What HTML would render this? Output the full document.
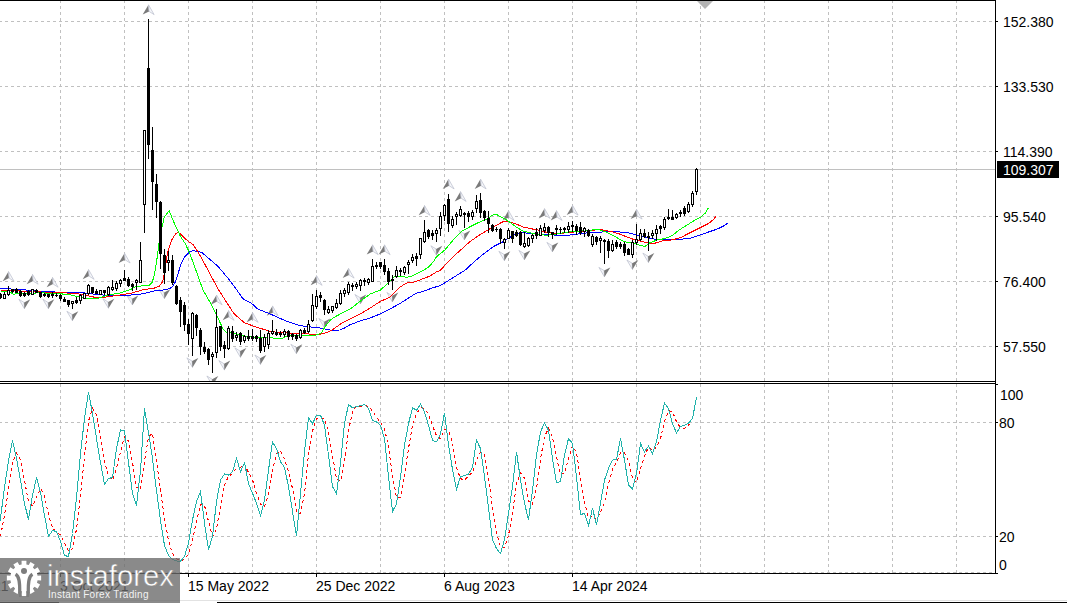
<!DOCTYPE html>
<html><head><meta charset="utf-8"><title>chart</title>
<style>
html,body{margin:0;padding:0;background:#fff;}
body{width:1067px;height:603px;position:relative;overflow:hidden;font-family:"Liberation Sans",sans-serif;}
.l{position:absolute;font-size:14px;line-height:15px;white-space:nowrap;letter-spacing:0px;}
#logo{position:absolute;left:0;top:558px;width:180px;height:45px;background:rgba(107,107,107,0.79);overflow:hidden;}
#lt1{position:absolute;left:47px;top:1px;font-size:30px;line-height:34px;color:#fff;transform-origin:0 0;transform:scaleX(0.975);-webkit-text-stroke:0.5px #8a8a8a;white-space:nowrap;}
#lt2{position:absolute;left:48px;top:30.5px;font-size:10px;line-height:12px;color:#fff;opacity:0.9;white-space:nowrap;letter-spacing:0.3px;}
</style></head><body>
<svg width="1067" height="603" viewBox="0 0 1067 603" style="position:absolute;left:0;top:0">
<g shape-rendering="crispEdges" stroke="#c0c0c0" stroke-width="1" stroke-dasharray="3 3" fill="none">
<line x1="60.5" y1="1" x2="60.5" y2="381" stroke-dashoffset="1"/>
<line x1="60.5" y1="384" x2="60.5" y2="573"/>
<line x1="124.5" y1="1" x2="124.5" y2="381" stroke-dashoffset="1"/>
<line x1="124.5" y1="384" x2="124.5" y2="573"/>
<line x1="188.5" y1="1" x2="188.5" y2="381" stroke-dashoffset="1"/>
<line x1="188.5" y1="384" x2="188.5" y2="573"/>
<line x1="252.5" y1="1" x2="252.5" y2="381" stroke-dashoffset="1"/>
<line x1="252.5" y1="384" x2="252.5" y2="573"/>
<line x1="316.5" y1="1" x2="316.5" y2="381" stroke-dashoffset="1"/>
<line x1="316.5" y1="384" x2="316.5" y2="573"/>
<line x1="380.5" y1="1" x2="380.5" y2="381" stroke-dashoffset="1"/>
<line x1="380.5" y1="384" x2="380.5" y2="573"/>
<line x1="444.5" y1="1" x2="444.5" y2="381" stroke-dashoffset="1"/>
<line x1="444.5" y1="384" x2="444.5" y2="573"/>
<line x1="508.5" y1="1" x2="508.5" y2="381" stroke-dashoffset="1"/>
<line x1="508.5" y1="384" x2="508.5" y2="573"/>
<line x1="572.5" y1="1" x2="572.5" y2="381" stroke-dashoffset="1"/>
<line x1="572.5" y1="384" x2="572.5" y2="573"/>
<line x1="636.5" y1="1" x2="636.5" y2="381" stroke-dashoffset="1"/>
<line x1="636.5" y1="384" x2="636.5" y2="573"/>
<line x1="700.5" y1="1" x2="700.5" y2="381" stroke-dashoffset="1"/>
<line x1="700.5" y1="384" x2="700.5" y2="573"/>
<line x1="764.5" y1="1" x2="764.5" y2="381" stroke-dashoffset="1"/>
<line x1="764.5" y1="384" x2="764.5" y2="573"/>
<line x1="828.5" y1="1" x2="828.5" y2="381" stroke-dashoffset="1"/>
<line x1="828.5" y1="384" x2="828.5" y2="573"/>
<line x1="892.5" y1="1" x2="892.5" y2="381" stroke-dashoffset="1"/>
<line x1="892.5" y1="384" x2="892.5" y2="573"/>
<line x1="956.5" y1="1" x2="956.5" y2="381" stroke-dashoffset="1"/>
<line x1="956.5" y1="384" x2="956.5" y2="573"/>
<line x1="0" y1="21.5" x2="995" y2="21.5" stroke-dashoffset="1"/>
<line x1="0" y1="86.5" x2="995" y2="86.5" stroke-dashoffset="1"/>
<line x1="0" y1="151.5" x2="995" y2="151.5" stroke-dashoffset="1"/>
<line x1="0" y1="216.5" x2="995" y2="216.5" stroke-dashoffset="1"/>
<line x1="0" y1="281.5" x2="995" y2="281.5" stroke-dashoffset="1"/>
<line x1="0" y1="346.5" x2="995" y2="346.5" stroke-dashoffset="1"/>
<line x1="0" y1="422.5" x2="995" y2="422.5" stroke-dashoffset="1"/>
<line x1="0" y1="536.5" x2="995" y2="536.5" stroke-dashoffset="1"/>
<line x1="0" y1="572.5" x2="995" y2="572.5" stroke-dashoffset="1"/>
</g>
<rect x="0" y="169" width="995" height="1" fill="#c0c0c0" shape-rendering="crispEdges"/>
<defs><clipPath id="cm"><rect x="0" y="1" width="995" height="380"/></clipPath><clipPath id="cs"><rect x="0" y="384" width="995" height="189"/></clipPath></defs>
<g clip-path="url(#cm)">
<polygon points="8.5,271.5 2.7,281.3 9.1,278.1" fill="#7a7a7a"/><polygon points="8.5,271.5 14.1,281.3 9.1,278.1" fill="#f6f7fa" stroke="#bfc3d0" stroke-width="0.8"/>
<polygon points="32.5,274.4 26.7,284.2 33.1,281.0" fill="#7a7a7a"/><polygon points="32.5,274.4 38.1,284.2 33.1,281.0" fill="#f6f7fa" stroke="#bfc3d0" stroke-width="0.8"/>
<polygon points="52.5,277.4 46.7,287.2 53.1,284.0" fill="#7a7a7a"/><polygon points="52.5,277.4 58.1,287.2 53.1,284.0" fill="#f6f7fa" stroke="#bfc3d0" stroke-width="0.8"/>
<polygon points="88.5,269.5 82.7,279.3 89.1,276.1" fill="#7a7a7a"/><polygon points="88.5,269.5 94.1,279.3 89.1,276.1" fill="#f6f7fa" stroke="#bfc3d0" stroke-width="0.8"/>
<polygon points="124.5,253.2 118.7,263.0 125.1,259.8" fill="#7a7a7a"/><polygon points="124.5,253.2 130.1,263.0 125.1,259.8" fill="#f6f7fa" stroke="#bfc3d0" stroke-width="0.8"/>
<polygon points="148.5,4.8 142.7,14.6 149.1,11.4" fill="#7a7a7a"/><polygon points="148.5,4.8 154.1,14.6 149.1,11.4" fill="#f6f7fa" stroke="#bfc3d0" stroke-width="0.8"/>
<polygon points="216.5,295.0 210.7,304.8 217.1,301.6" fill="#7a7a7a"/><polygon points="216.5,295.0 222.1,304.8 217.1,301.6" fill="#f6f7fa" stroke="#bfc3d0" stroke-width="0.8"/>
<polygon points="228.5,310.5 222.7,320.3 229.1,317.1" fill="#7a7a7a"/><polygon points="228.5,310.5 234.1,320.3 229.1,317.1" fill="#f6f7fa" stroke="#bfc3d0" stroke-width="0.8"/>
<polygon points="252.5,312.5 246.7,322.3 253.1,319.1" fill="#7a7a7a"/><polygon points="252.5,312.5 258.1,322.3 253.1,319.1" fill="#f6f7fa" stroke="#bfc3d0" stroke-width="0.8"/>
<polygon points="272.5,305.9 266.7,315.7 273.1,312.5" fill="#7a7a7a"/><polygon points="272.5,305.9 278.1,315.7 273.1,312.5" fill="#f6f7fa" stroke="#bfc3d0" stroke-width="0.8"/>
<polygon points="316.5,275.5 310.7,285.3 317.1,282.1" fill="#7a7a7a"/><polygon points="316.5,275.5 322.1,285.3 317.1,282.1" fill="#f6f7fa" stroke="#bfc3d0" stroke-width="0.8"/>
<polygon points="348.5,268.3 342.7,278.1 349.1,274.9" fill="#7a7a7a"/><polygon points="348.5,268.3 354.1,278.1 349.1,274.9" fill="#f6f7fa" stroke="#bfc3d0" stroke-width="0.8"/>
<polygon points="372.5,244.8 366.7,254.6 373.1,251.4" fill="#7a7a7a"/><polygon points="372.5,244.8 378.1,254.6 373.1,251.4" fill="#f6f7fa" stroke="#bfc3d0" stroke-width="0.8"/>
<polygon points="384.5,244.8 378.7,254.6 385.1,251.4" fill="#7a7a7a"/><polygon points="384.5,244.8 390.1,254.6 385.1,251.4" fill="#f6f7fa" stroke="#bfc3d0" stroke-width="0.8"/>
<polygon points="424.5,205.5 418.7,215.3 425.1,212.1" fill="#7a7a7a"/><polygon points="424.5,205.5 430.1,215.3 425.1,212.1" fill="#f6f7fa" stroke="#bfc3d0" stroke-width="0.8"/>
<polygon points="448.5,179.1 442.7,188.9 449.1,185.7" fill="#7a7a7a"/><polygon points="448.5,179.1 454.1,188.9 449.1,185.7" fill="#f6f7fa" stroke="#bfc3d0" stroke-width="0.8"/>
<polygon points="460.5,191.6 454.7,201.4 461.1,198.2" fill="#7a7a7a"/><polygon points="460.5,191.6 466.1,201.4 461.1,198.2" fill="#f6f7fa" stroke="#bfc3d0" stroke-width="0.8"/>
<polygon points="480.5,179.1 474.7,188.9 481.1,185.7" fill="#7a7a7a"/><polygon points="480.5,179.1 486.1,188.9 481.1,185.7" fill="#f6f7fa" stroke="#bfc3d0" stroke-width="0.8"/>
<polygon points="508.5,210.6 502.7,220.4 509.1,217.2" fill="#7a7a7a"/><polygon points="508.5,210.6 514.1,220.4 509.1,217.2" fill="#f6f7fa" stroke="#bfc3d0" stroke-width="0.8"/>
<polygon points="544.5,208.6 538.7,218.4 545.1,215.2" fill="#7a7a7a"/><polygon points="544.5,208.6 550.1,218.4 545.1,215.2" fill="#f6f7fa" stroke="#bfc3d0" stroke-width="0.8"/>
<polygon points="556.5,210.6 550.7,220.4 557.1,217.2" fill="#7a7a7a"/><polygon points="556.5,210.6 562.1,220.4 557.1,217.2" fill="#f6f7fa" stroke="#bfc3d0" stroke-width="0.8"/>
<polygon points="572.5,205.3 566.7,215.1 573.1,211.9" fill="#7a7a7a"/><polygon points="572.5,205.3 578.1,215.1 573.1,211.9" fill="#f6f7fa" stroke="#bfc3d0" stroke-width="0.8"/>
<polygon points="636.5,209.3 630.7,219.1 637.1,215.9" fill="#7a7a7a"/><polygon points="636.5,209.3 642.1,219.1 637.1,215.9" fill="#f6f7fa" stroke="#bfc3d0" stroke-width="0.8"/>
<polygon points="24.5,308.8 18.9,299.3 24.1,302.5" fill="#f6f7fa" stroke="#bfc3d0" stroke-width="0.8"/><polygon points="24.5,308.8 30.3,299.3 24.1,302.5" fill="#7a7a7a"/>
<polygon points="48.5,308.8 42.9,299.3 48.1,302.5" fill="#f6f7fa" stroke="#bfc3d0" stroke-width="0.8"/><polygon points="48.5,308.8 54.3,299.3 48.1,302.5" fill="#7a7a7a"/>
<polygon points="72.5,320.8 66.9,311.3 72.1,314.5" fill="#f6f7fa" stroke="#bfc3d0" stroke-width="0.8"/><polygon points="72.5,320.8 78.3,311.3 72.1,314.5" fill="#7a7a7a"/>
<polygon points="108.5,308.3 102.9,298.8 108.1,302.0" fill="#f6f7fa" stroke="#bfc3d0" stroke-width="0.8"/><polygon points="108.5,308.3 114.3,298.8 108.1,302.0" fill="#7a7a7a"/>
<polygon points="132.5,305.0 126.9,295.5 132.1,298.7" fill="#f6f7fa" stroke="#bfc3d0" stroke-width="0.8"/><polygon points="132.5,305.0 138.3,295.5 132.1,298.7" fill="#7a7a7a"/>
<polygon points="164.5,298.7 158.9,289.2 164.1,292.4" fill="#f6f7fa" stroke="#bfc3d0" stroke-width="0.8"/><polygon points="164.5,298.7 170.3,289.2 164.1,292.4" fill="#7a7a7a"/>
<polygon points="192.5,367.4 186.9,357.9 192.1,361.1" fill="#f6f7fa" stroke="#bfc3d0" stroke-width="0.8"/><polygon points="192.5,367.4 198.3,357.9 192.1,361.1" fill="#7a7a7a"/>
<polygon points="212.5,385.5 206.9,376.0 212.1,379.2" fill="#f6f7fa" stroke="#bfc3d0" stroke-width="0.8"/><polygon points="212.5,385.5 218.3,376.0 212.1,379.2" fill="#7a7a7a"/>
<polygon points="224.5,370.1 218.9,360.6 224.1,363.8" fill="#f6f7fa" stroke="#bfc3d0" stroke-width="0.8"/><polygon points="224.5,370.1 230.3,360.6 224.1,363.8" fill="#7a7a7a"/>
<polygon points="240.5,357.4 234.9,347.9 240.1,351.1" fill="#f6f7fa" stroke="#bfc3d0" stroke-width="0.8"/><polygon points="240.5,357.4 246.3,347.9 240.1,351.1" fill="#7a7a7a"/>
<polygon points="260.5,364.5 254.9,355.0 260.1,358.2" fill="#f6f7fa" stroke="#bfc3d0" stroke-width="0.8"/><polygon points="260.5,364.5 266.3,355.0 260.1,358.2" fill="#7a7a7a"/>
<polygon points="296.5,353.8 290.9,344.3 296.1,347.5" fill="#f6f7fa" stroke="#bfc3d0" stroke-width="0.8"/><polygon points="296.5,353.8 302.3,344.3 296.1,347.5" fill="#7a7a7a"/>
<polygon points="324.5,328.0 318.9,318.5 324.1,321.7" fill="#f6f7fa" stroke="#bfc3d0" stroke-width="0.8"/><polygon points="324.5,328.0 330.3,318.5 324.1,321.7" fill="#7a7a7a"/>
<polygon points="360.5,304.0 354.9,294.5 360.1,297.7" fill="#f6f7fa" stroke="#bfc3d0" stroke-width="0.8"/><polygon points="360.5,304.0 366.3,294.5 360.1,297.7" fill="#7a7a7a"/>
<polygon points="392.5,302.0 386.9,292.5 392.1,295.7" fill="#f6f7fa" stroke="#bfc3d0" stroke-width="0.8"/><polygon points="392.5,302.0 398.3,292.5 392.1,295.7" fill="#7a7a7a"/>
<polygon points="436.5,255.3 430.9,245.8 436.1,249.0" fill="#f6f7fa" stroke="#bfc3d0" stroke-width="0.8"/><polygon points="436.5,255.3 442.3,245.8 436.1,249.0" fill="#7a7a7a"/>
<polygon points="464.5,240.0 458.9,230.5 464.1,233.7" fill="#f6f7fa" stroke="#bfc3d0" stroke-width="0.8"/><polygon points="464.5,240.0 470.3,230.5 464.1,233.7" fill="#7a7a7a"/>
<polygon points="504.5,260.8 498.9,251.3 504.1,254.5" fill="#f6f7fa" stroke="#bfc3d0" stroke-width="0.8"/><polygon points="504.5,260.8 510.3,251.3 504.1,254.5" fill="#7a7a7a"/>
<polygon points="524.5,259.9 518.9,250.4 524.1,253.6" fill="#f6f7fa" stroke="#bfc3d0" stroke-width="0.8"/><polygon points="524.5,259.9 530.3,250.4 524.1,253.6" fill="#7a7a7a"/>
<polygon points="552.5,251.9 546.9,242.4 552.1,245.6" fill="#f6f7fa" stroke="#bfc3d0" stroke-width="0.8"/><polygon points="552.5,251.9 558.3,242.4 552.1,245.6" fill="#7a7a7a"/>
<polygon points="604.5,276.9 598.9,267.4 604.1,270.6" fill="#f6f7fa" stroke="#bfc3d0" stroke-width="0.8"/><polygon points="604.5,276.9 610.3,267.4 604.1,270.6" fill="#7a7a7a"/>
<polygon points="632.5,269.5 626.9,260.0 632.1,263.2" fill="#f6f7fa" stroke="#bfc3d0" stroke-width="0.8"/><polygon points="632.5,269.5 638.3,260.0 632.1,263.2" fill="#7a7a7a"/>
<polygon points="648.5,262.6 642.9,253.1 648.1,256.3" fill="#f6f7fa" stroke="#bfc3d0" stroke-width="0.8"/><polygon points="648.5,262.6 654.3,253.1 648.1,256.3" fill="#7a7a7a"/>
</g>
<g shape-rendering="crispEdges">
<polyline points="0.5,288.5 20.5,289.5 40.5,291.5 60.5,292.2 80.5,292.5 96.5,294.4 110.5,295.8 131.5,295.0 143.0,293.8 154.5,290.9 166.2,289.7 172.0,287.4 175.5,281.6 177.8,274.6 181.3,263.0 184.8,256.6 189.4,252.0 193.1,250.7 197.5,251.3 201.8,252.5 209.5,259.0 218.6,267.0 230.6,281.4 236.5,289.5 242.6,298.2 244.5,299.7 251.1,303.0 257.8,309.0 271.0,314.3 284.3,320.3 297.5,324.9 304.2,326.3 317.5,327.6 330.7,330.2 340.0,330.0 344.5,328.0 350.5,324.5 360.4,320.9 370.3,317.9 380.3,313.9 390.2,308.9 400.1,303.4 410.1,297.0 416.0,293.4 424.0,291.0 432.0,288.1 440.5,285.5 452.5,278.0 464.7,270.5 469.7,265.9 478.0,258.4 486.3,251.8 494.5,246.0 502.8,241.8 509.5,237.7 516.1,233.5 522.7,232.7 532.5,233.5 545.8,234.7 559.0,235.2 565.7,235.6 578.9,233.9 592.2,232.3 605.5,231.9 618.7,231.9 625.3,232.3 632.5,233.7 635.6,235.0 644.7,237.1 653.9,239.0 663.0,239.9 672.1,239.9 681.2,239.3 690.4,238.1 699.5,235.3 708.6,232.0 717.7,228.9 723.2,226.2 728.1,222.9" fill="none" stroke="#0000ff" stroke-width="1" />
<polyline points="0.5,290.0 20.5,291.0 40.5,292.0 60.5,292.5 70.5,293.3 80.5,294.1 90.5,296.3 97.0,297.8 100.5,297.9 108.1,296.7 119.7,295.0 131.3,293.2 143.0,289.7 154.5,288.0 159.2,286.2 162.7,281.6 165.0,270.0 167.3,253.7 170.8,242.1 172.8,238.0 175.5,234.0 177.8,232.5 180.1,233.5 184.8,238.5 189.4,242.1 192.9,244.5 196.5,249.7 201.8,258.5 211.4,276.5 217.7,288.3 226.8,302.8 234.1,313.8 241.4,320.1 244.5,322.9 257.8,327.6 271.0,331.6 284.3,332.9 297.5,333.5 308.2,333.9 316.1,334.9 324.1,333.3 330.7,330.9 337.3,326.3 340.5,323.9 350.5,318.9 360.4,313.9 370.3,307.9 380.3,301.4 390.2,297.0 400.1,287.1 406.1,283.1 414.1,282.1 422.0,279.1 430.0,276.1 435.9,272.2 440.5,270.2 446.5,263.4 453.1,256.7 461.4,249.3 469.7,241.8 478.0,236.0 486.3,231.0 494.5,226.1 502.8,221.9 509.5,221.9 516.1,223.9 522.7,226.9 529.4,228.2 532.5,229.0 539.1,230.3 545.8,232.1 552.4,233.0 559.0,233.7 569.6,232.3 578.9,231.7 588.2,230.3 601.5,229.7 612.1,231.7 618.7,233.7 625.3,236.3 632.5,239.0 635.6,239.9 644.7,242.3 653.9,243.5 663.0,240.8 672.1,239.9 681.2,237.5 686.7,234.4 694.0,230.8 701.3,227.1 708.6,223.5 714.1,218.9 716.3,215.6" fill="none" stroke="#ff0000" stroke-width="1" />
<polyline points="0.5,290.9 10.5,292.4 13.5,294.1 40.5,292.8 60.5,293.8 70.5,294.8 80.5,297.3 87.5,298.8 97.0,298.8 100.5,297.5 108.1,295.0 119.7,293.2 131.3,289.2 136.5,286.2 148.8,285.7 152.2,282.2 154.5,274.6 156.9,259.5 159.2,241.0 160.4,234.8 164.1,217.5 169.1,210.7 174.0,222.5 180.3,236.1 185.2,243.5 189.4,252.5 196.5,271.7 197.7,275.5 203.1,290.1 210.4,302.8 217.7,317.4 223.2,329.3 226.8,332.9 232.3,332.9 244.5,336.2 257.8,337.3 271.0,337.3 275.0,338.9 281.6,338.6 286.9,336.2 297.5,335.1 310.8,335.5 317.5,334.9 321.4,332.9 325.4,326.3 330.7,319.6 337.3,315.6 340.5,313.9 350.5,308.9 360.4,301.0 370.3,294.0 380.3,290.1 388.2,283.1 394.2,276.7 402.1,276.1 406.1,277.5 412.1,276.1 420.0,272.2 428.0,267.6 433.9,261.2 436.5,256.7 444.8,250.1 453.1,240.2 461.4,231.5 469.7,226.9 478.0,222.7 486.3,219.4 492.9,214.9 497.0,214.8 502.8,217.8 509.5,221.9 516.1,226.9 522.7,231.0 529.4,232.7 536.5,233.9 545.8,235.2 559.0,233.7 565.7,232.3 572.3,231.7 585.5,230.3 598.8,229.7 606.8,232.3 614.7,236.3 622.7,241.0 628.0,242.7 632.0,243.0 637.5,244.5 644.7,246.6 650.2,242.6 657.5,239.9 664.8,238.6 672.1,235.7 679.4,229.8 686.7,225.3 694.0,220.7 701.3,216.7 705.9,212.5 708.3,207.9" fill="none" stroke="#00ff00" stroke-width="1" />
</g>
<g shape-rendering="crispEdges">
<rect x="0" y="293" width="1" height="6" fill="#000"/>
<rect x="-1" y="294" width="3" height="4" fill="#000"/>
<rect x="4" y="292" width="1" height="7" fill="#000"/>
<rect x="3" y="294" width="3" height="5" fill="#000"/>
<rect x="4" y="295" width="1" height="3" fill="#fff"/>
<rect x="8" y="286" width="1" height="10" fill="#000"/>
<rect x="7" y="290" width="3" height="5" fill="#000"/>
<rect x="8" y="291" width="1" height="3" fill="#fff"/>
<rect x="12" y="289" width="1" height="4" fill="#000"/>
<rect x="11" y="289" width="3" height="3" fill="#000"/>
<rect x="16" y="288" width="1" height="5" fill="#000"/>
<rect x="15" y="289" width="3" height="4" fill="#000"/>
<rect x="20" y="290" width="1" height="7" fill="#000"/>
<rect x="19" y="291" width="3" height="5" fill="#000"/>
<rect x="24" y="292" width="1" height="5" fill="#000"/>
<rect x="23" y="293" width="3" height="3" fill="#000"/>
<rect x="28" y="290" width="1" height="6" fill="#000"/>
<rect x="27" y="291" width="3" height="4" fill="#000"/>
<rect x="32" y="289" width="1" height="6" fill="#000"/>
<rect x="31" y="289" width="3" height="6" fill="#000"/>
<rect x="32" y="290" width="1" height="4" fill="#fff"/>
<rect x="36" y="289" width="1" height="4" fill="#000"/>
<rect x="35" y="290" width="3" height="3" fill="#000"/>
<rect x="40" y="292" width="1" height="6" fill="#000"/>
<rect x="39" y="292" width="3" height="5" fill="#000"/>
<rect x="44" y="293" width="1" height="4" fill="#000"/>
<rect x="43" y="294" width="3" height="2" fill="#000"/>
<rect x="48" y="294" width="1" height="4" fill="#000"/>
<rect x="47" y="294" width="3" height="3" fill="#000"/>
<rect x="52" y="292" width="1" height="6" fill="#000"/>
<rect x="51" y="294" width="3" height="2" fill="#000"/>
<rect x="56" y="293" width="1" height="4" fill="#000"/>
<rect x="55" y="295" width="3" height="1" fill="#000"/>
<rect x="60" y="294" width="1" height="7" fill="#000"/>
<rect x="59" y="295" width="3" height="4" fill="#000"/>
<rect x="64" y="297" width="1" height="5" fill="#000"/>
<rect x="63" y="299" width="3" height="3" fill="#000"/>
<rect x="68" y="300" width="1" height="7" fill="#000"/>
<rect x="67" y="300" width="3" height="5" fill="#000"/>
<rect x="72" y="301" width="1" height="8" fill="#000"/>
<rect x="71" y="301" width="3" height="3" fill="#000"/>
<rect x="72" y="302" width="1" height="1" fill="#fff"/>
<rect x="76" y="297" width="1" height="7" fill="#000"/>
<rect x="75" y="300" width="3" height="3" fill="#000"/>
<rect x="80" y="294" width="1" height="10" fill="#000"/>
<rect x="79" y="295" width="3" height="6" fill="#000"/>
<rect x="80" y="296" width="1" height="4" fill="#fff"/>
<rect x="84" y="293" width="1" height="6" fill="#000"/>
<rect x="83" y="293" width="3" height="6" fill="#000"/>
<rect x="84" y="294" width="1" height="4" fill="#fff"/>
<rect x="88" y="284" width="1" height="11" fill="#000"/>
<rect x="87" y="285" width="3" height="9" fill="#000"/>
<rect x="88" y="286" width="1" height="7" fill="#fff"/>
<rect x="92" y="287" width="1" height="7" fill="#000"/>
<rect x="91" y="287" width="3" height="6" fill="#000"/>
<rect x="96" y="289" width="1" height="5" fill="#000"/>
<rect x="95" y="291" width="3" height="3" fill="#000"/>
<rect x="100" y="290" width="1" height="5" fill="#000"/>
<rect x="99" y="290" width="3" height="5" fill="#000"/>
<rect x="100" y="291" width="1" height="3" fill="#fff"/>
<rect x="104" y="290" width="1" height="5" fill="#000"/>
<rect x="103" y="290" width="3" height="3" fill="#000"/>
<rect x="108" y="286" width="1" height="10" fill="#000"/>
<rect x="107" y="287" width="3" height="8" fill="#000"/>
<rect x="108" y="288" width="1" height="6" fill="#fff"/>
<rect x="112" y="280" width="1" height="11" fill="#000"/>
<rect x="111" y="287" width="3" height="3" fill="#000"/>
<rect x="112" y="288" width="1" height="1" fill="#fff"/>
<rect x="116" y="281" width="1" height="10" fill="#000"/>
<rect x="115" y="283" width="3" height="6" fill="#000"/>
<rect x="116" y="284" width="1" height="4" fill="#fff"/>
<rect x="120" y="279" width="1" height="8" fill="#000"/>
<rect x="119" y="280" width="3" height="4" fill="#000"/>
<rect x="120" y="281" width="1" height="2" fill="#fff"/>
<rect x="124" y="270" width="1" height="11" fill="#000"/>
<rect x="123" y="278" width="3" height="3" fill="#000"/>
<rect x="128" y="277" width="1" height="10" fill="#000"/>
<rect x="127" y="279" width="3" height="7" fill="#000"/>
<rect x="132" y="283" width="1" height="8" fill="#000"/>
<rect x="131" y="284" width="3" height="3" fill="#000"/>
<rect x="136" y="279" width="1" height="11" fill="#000"/>
<rect x="135" y="280" width="3" height="3" fill="#000"/>
<rect x="136" y="281" width="1" height="1" fill="#fff"/>
<rect x="140" y="242" width="1" height="41" fill="#000"/>
<rect x="139" y="260" width="3" height="23" fill="#000"/>
<rect x="140" y="261" width="1" height="21" fill="#fff"/>
<rect x="144" y="130" width="1" height="103" fill="#000"/>
<rect x="143" y="130" width="3" height="75" fill="#000"/>
<rect x="144" y="131" width="1" height="73" fill="#fff"/>
<rect x="148" y="19" width="1" height="140" fill="#000"/>
<rect x="147" y="68" width="3" height="77" fill="#000"/>
<rect x="152" y="127" width="1" height="83" fill="#000"/>
<rect x="151" y="150" width="3" height="32" fill="#000"/>
<rect x="156" y="174" width="1" height="44" fill="#000"/>
<rect x="155" y="184" width="3" height="18" fill="#000"/>
<rect x="160" y="201" width="1" height="68" fill="#000"/>
<rect x="159" y="202" width="3" height="52" fill="#000"/>
<rect x="164" y="249" width="1" height="35" fill="#000"/>
<rect x="163" y="255" width="3" height="18" fill="#000"/>
<rect x="168" y="251" width="1" height="20" fill="#000"/>
<rect x="167" y="260" width="3" height="3" fill="#000"/>
<rect x="168" y="261" width="1" height="1" fill="#fff"/>
<rect x="172" y="255" width="1" height="30" fill="#000"/>
<rect x="171" y="260" width="3" height="23" fill="#000"/>
<rect x="176" y="285" width="1" height="20" fill="#000"/>
<rect x="175" y="286" width="3" height="18" fill="#000"/>
<rect x="180" y="297" width="1" height="30" fill="#000"/>
<rect x="179" y="300" width="3" height="12" fill="#000"/>
<rect x="184" y="302" width="1" height="29" fill="#000"/>
<rect x="183" y="305" width="3" height="20" fill="#000"/>
<rect x="188" y="319" width="1" height="26" fill="#000"/>
<rect x="187" y="324" width="3" height="10" fill="#000"/>
<rect x="192" y="312" width="1" height="44" fill="#000"/>
<rect x="191" y="313" width="3" height="26" fill="#000"/>
<rect x="192" y="314" width="1" height="24" fill="#fff"/>
<rect x="196" y="314" width="1" height="22" fill="#000"/>
<rect x="195" y="315" width="3" height="13" fill="#000"/>
<rect x="200" y="328" width="1" height="27" fill="#000"/>
<rect x="199" y="330" width="3" height="17" fill="#000"/>
<rect x="204" y="342" width="1" height="12" fill="#000"/>
<rect x="203" y="347" width="3" height="5" fill="#000"/>
<rect x="208" y="348" width="1" height="17" fill="#000"/>
<rect x="207" y="349" width="3" height="11" fill="#000"/>
<rect x="212" y="352" width="1" height="21" fill="#000"/>
<rect x="211" y="354" width="3" height="3" fill="#000"/>
<rect x="212" y="355" width="1" height="1" fill="#fff"/>
<rect x="216" y="309" width="1" height="49" fill="#000"/>
<rect x="215" y="327" width="3" height="26" fill="#000"/>
<rect x="216" y="328" width="1" height="24" fill="#fff"/>
<rect x="220" y="326" width="1" height="25" fill="#000"/>
<rect x="219" y="326" width="3" height="21" fill="#000"/>
<rect x="224" y="341" width="1" height="17" fill="#000"/>
<rect x="223" y="345" width="3" height="4" fill="#000"/>
<rect x="228" y="326" width="1" height="24" fill="#000"/>
<rect x="227" y="328" width="3" height="21" fill="#000"/>
<rect x="228" y="329" width="1" height="19" fill="#fff"/>
<rect x="232" y="326" width="1" height="16" fill="#000"/>
<rect x="231" y="331" width="3" height="8" fill="#000"/>
<rect x="236" y="332" width="1" height="9" fill="#000"/>
<rect x="235" y="335" width="3" height="3" fill="#000"/>
<rect x="236" y="336" width="1" height="1" fill="#fff"/>
<rect x="240" y="332" width="1" height="13" fill="#000"/>
<rect x="239" y="333" width="3" height="9" fill="#000"/>
<rect x="244" y="335" width="1" height="8" fill="#000"/>
<rect x="243" y="336" width="3" height="5" fill="#000"/>
<rect x="244" y="337" width="1" height="3" fill="#fff"/>
<rect x="248" y="330" width="1" height="11" fill="#000"/>
<rect x="247" y="336" width="3" height="3" fill="#000"/>
<rect x="252" y="329" width="1" height="12" fill="#000"/>
<rect x="251" y="336" width="3" height="3" fill="#000"/>
<rect x="256" y="335" width="1" height="7" fill="#000"/>
<rect x="255" y="336" width="3" height="3" fill="#000"/>
<rect x="260" y="330" width="1" height="23" fill="#000"/>
<rect x="259" y="338" width="3" height="13" fill="#000"/>
<rect x="264" y="334" width="1" height="18" fill="#000"/>
<rect x="263" y="337" width="3" height="10" fill="#000"/>
<rect x="264" y="338" width="1" height="8" fill="#fff"/>
<rect x="268" y="330" width="1" height="19" fill="#000"/>
<rect x="267" y="333" width="3" height="12" fill="#000"/>
<rect x="268" y="334" width="1" height="10" fill="#fff"/>
<rect x="272" y="320" width="1" height="15" fill="#000"/>
<rect x="271" y="331" width="3" height="3" fill="#000"/>
<rect x="272" y="332" width="1" height="1" fill="#fff"/>
<rect x="276" y="329" width="1" height="7" fill="#000"/>
<rect x="275" y="332" width="3" height="3" fill="#000"/>
<rect x="280" y="331" width="1" height="6" fill="#000"/>
<rect x="279" y="333" width="3" height="2" fill="#000"/>
<rect x="284" y="329" width="1" height="8" fill="#000"/>
<rect x="283" y="331" width="3" height="4" fill="#000"/>
<rect x="284" y="332" width="1" height="2" fill="#fff"/>
<rect x="288" y="330" width="1" height="10" fill="#000"/>
<rect x="287" y="331" width="3" height="6" fill="#000"/>
<rect x="292" y="333" width="1" height="7" fill="#000"/>
<rect x="291" y="334" width="3" height="3" fill="#000"/>
<rect x="296" y="334" width="1" height="7" fill="#000"/>
<rect x="295" y="335" width="3" height="4" fill="#000"/>
<rect x="300" y="329" width="1" height="10" fill="#000"/>
<rect x="299" y="330" width="3" height="8" fill="#000"/>
<rect x="300" y="331" width="1" height="6" fill="#fff"/>
<rect x="304" y="328" width="1" height="6" fill="#000"/>
<rect x="303" y="330" width="3" height="3" fill="#000"/>
<rect x="308" y="320" width="1" height="13" fill="#000"/>
<rect x="307" y="324" width="3" height="8" fill="#000"/>
<rect x="308" y="325" width="1" height="6" fill="#fff"/>
<rect x="312" y="294" width="1" height="28" fill="#000"/>
<rect x="311" y="305" width="3" height="16" fill="#000"/>
<rect x="312" y="306" width="1" height="14" fill="#fff"/>
<rect x="316" y="290" width="1" height="19" fill="#000"/>
<rect x="315" y="296" width="3" height="11" fill="#000"/>
<rect x="316" y="297" width="1" height="9" fill="#fff"/>
<rect x="320" y="292" width="1" height="10" fill="#000"/>
<rect x="319" y="295" width="3" height="3" fill="#000"/>
<rect x="324" y="299" width="1" height="16" fill="#000"/>
<rect x="323" y="300" width="3" height="10" fill="#000"/>
<rect x="328" y="306" width="1" height="8" fill="#000"/>
<rect x="327" y="309" width="3" height="4" fill="#000"/>
<rect x="328" y="310" width="1" height="2" fill="#fff"/>
<rect x="332" y="306" width="1" height="7" fill="#000"/>
<rect x="331" y="306" width="3" height="5" fill="#000"/>
<rect x="332" y="307" width="1" height="3" fill="#fff"/>
<rect x="336" y="299" width="1" height="10" fill="#000"/>
<rect x="335" y="303" width="3" height="5" fill="#000"/>
<rect x="336" y="304" width="1" height="3" fill="#fff"/>
<rect x="340" y="290" width="1" height="15" fill="#000"/>
<rect x="339" y="293" width="3" height="11" fill="#000"/>
<rect x="340" y="294" width="1" height="9" fill="#fff"/>
<rect x="344" y="288" width="1" height="9" fill="#000"/>
<rect x="343" y="290" width="3" height="4" fill="#000"/>
<rect x="344" y="291" width="1" height="2" fill="#fff"/>
<rect x="348" y="282" width="1" height="13" fill="#000"/>
<rect x="347" y="284" width="3" height="9" fill="#000"/>
<rect x="348" y="285" width="1" height="7" fill="#fff"/>
<rect x="352" y="283" width="1" height="8" fill="#000"/>
<rect x="351" y="285" width="3" height="2" fill="#000"/>
<rect x="356" y="282" width="1" height="7" fill="#000"/>
<rect x="355" y="284" width="3" height="3" fill="#000"/>
<rect x="356" y="285" width="1" height="1" fill="#fff"/>
<rect x="360" y="279" width="1" height="12" fill="#000"/>
<rect x="359" y="280" width="3" height="6" fill="#000"/>
<rect x="360" y="281" width="1" height="4" fill="#fff"/>
<rect x="364" y="278" width="1" height="8" fill="#000"/>
<rect x="363" y="280" width="3" height="2" fill="#000"/>
<rect x="368" y="278" width="1" height="7" fill="#000"/>
<rect x="367" y="279" width="3" height="4" fill="#000"/>
<rect x="368" y="280" width="1" height="2" fill="#fff"/>
<rect x="372" y="259" width="1" height="23" fill="#000"/>
<rect x="371" y="266" width="3" height="16" fill="#000"/>
<rect x="372" y="267" width="1" height="14" fill="#fff"/>
<rect x="376" y="262" width="1" height="7" fill="#000"/>
<rect x="375" y="265" width="3" height="2" fill="#000"/>
<rect x="380" y="262" width="1" height="7" fill="#000"/>
<rect x="379" y="262" width="3" height="5" fill="#000"/>
<rect x="384" y="259" width="1" height="16" fill="#000"/>
<rect x="383" y="265" width="3" height="7" fill="#000"/>
<rect x="388" y="268" width="1" height="17" fill="#000"/>
<rect x="387" y="271" width="3" height="11" fill="#000"/>
<rect x="392" y="275" width="1" height="15" fill="#000"/>
<rect x="391" y="279" width="3" height="2" fill="#000"/>
<rect x="396" y="266" width="1" height="12" fill="#000"/>
<rect x="395" y="270" width="3" height="7" fill="#000"/>
<rect x="396" y="271" width="1" height="5" fill="#fff"/>
<rect x="400" y="268" width="1" height="8" fill="#000"/>
<rect x="399" y="270" width="3" height="2" fill="#000"/>
<rect x="404" y="266" width="1" height="9" fill="#000"/>
<rect x="403" y="267" width="3" height="6" fill="#000"/>
<rect x="404" y="268" width="1" height="4" fill="#fff"/>
<rect x="408" y="260" width="1" height="14" fill="#000"/>
<rect x="407" y="262" width="3" height="3" fill="#000"/>
<rect x="408" y="263" width="1" height="1" fill="#fff"/>
<rect x="412" y="254" width="1" height="9" fill="#000"/>
<rect x="411" y="257" width="3" height="4" fill="#000"/>
<rect x="412" y="258" width="1" height="2" fill="#fff"/>
<rect x="416" y="253" width="1" height="13" fill="#000"/>
<rect x="415" y="256" width="3" height="3" fill="#000"/>
<rect x="420" y="238" width="1" height="21" fill="#000"/>
<rect x="419" y="238" width="3" height="17" fill="#000"/>
<rect x="420" y="239" width="1" height="15" fill="#fff"/>
<rect x="424" y="220" width="1" height="23" fill="#000"/>
<rect x="423" y="232" width="3" height="10" fill="#000"/>
<rect x="424" y="233" width="1" height="8" fill="#fff"/>
<rect x="428" y="229" width="1" height="10" fill="#000"/>
<rect x="427" y="230" width="3" height="7" fill="#000"/>
<rect x="432" y="230" width="1" height="10" fill="#000"/>
<rect x="431" y="233" width="3" height="3" fill="#000"/>
<rect x="436" y="228" width="1" height="14" fill="#000"/>
<rect x="435" y="230" width="3" height="4" fill="#000"/>
<rect x="436" y="231" width="1" height="2" fill="#fff"/>
<rect x="440" y="212" width="1" height="24" fill="#000"/>
<rect x="439" y="216" width="3" height="13" fill="#000"/>
<rect x="440" y="217" width="1" height="11" fill="#fff"/>
<rect x="444" y="204" width="1" height="17" fill="#000"/>
<rect x="443" y="205" width="3" height="11" fill="#000"/>
<rect x="444" y="206" width="1" height="9" fill="#fff"/>
<rect x="448" y="194" width="1" height="38" fill="#000"/>
<rect x="447" y="199" width="3" height="25" fill="#000"/>
<rect x="452" y="216" width="1" height="12" fill="#000"/>
<rect x="451" y="219" width="3" height="7" fill="#000"/>
<rect x="452" y="220" width="1" height="5" fill="#fff"/>
<rect x="456" y="212" width="1" height="13" fill="#000"/>
<rect x="455" y="214" width="3" height="3" fill="#000"/>
<rect x="456" y="215" width="1" height="1" fill="#fff"/>
<rect x="460" y="206" width="1" height="11" fill="#000"/>
<rect x="459" y="209" width="3" height="7" fill="#000"/>
<rect x="460" y="210" width="1" height="5" fill="#fff"/>
<rect x="464" y="212" width="1" height="16" fill="#000"/>
<rect x="463" y="213" width="3" height="2" fill="#000"/>
<rect x="468" y="211" width="1" height="11" fill="#000"/>
<rect x="467" y="213" width="3" height="4" fill="#000"/>
<rect x="472" y="210" width="1" height="10" fill="#000"/>
<rect x="471" y="212" width="3" height="5" fill="#000"/>
<rect x="472" y="213" width="1" height="3" fill="#fff"/>
<rect x="476" y="195" width="1" height="18" fill="#000"/>
<rect x="475" y="201" width="3" height="8" fill="#000"/>
<rect x="476" y="202" width="1" height="6" fill="#fff"/>
<rect x="480" y="193" width="1" height="25" fill="#000"/>
<rect x="479" y="200" width="3" height="13" fill="#000"/>
<rect x="484" y="210" width="1" height="11" fill="#000"/>
<rect x="483" y="211" width="3" height="7" fill="#000"/>
<rect x="488" y="211" width="1" height="22" fill="#000"/>
<rect x="487" y="218" width="3" height="6" fill="#000"/>
<rect x="492" y="224" width="1" height="8" fill="#000"/>
<rect x="491" y="225" width="3" height="6" fill="#000"/>
<rect x="496" y="227" width="1" height="5" fill="#000"/>
<rect x="495" y="229" width="3" height="1" fill="#000"/>
<rect x="500" y="228" width="1" height="16" fill="#000"/>
<rect x="499" y="229" width="3" height="10" fill="#000"/>
<rect x="504" y="238" width="1" height="11" fill="#000"/>
<rect x="503" y="239" width="3" height="4" fill="#000"/>
<rect x="504" y="240" width="1" height="2" fill="#fff"/>
<rect x="508" y="228" width="1" height="11" fill="#000"/>
<rect x="507" y="230" width="3" height="9" fill="#000"/>
<rect x="508" y="231" width="1" height="7" fill="#fff"/>
<rect x="512" y="231" width="1" height="12" fill="#000"/>
<rect x="511" y="231" width="3" height="8" fill="#000"/>
<rect x="516" y="230" width="1" height="7" fill="#000"/>
<rect x="515" y="232" width="3" height="4" fill="#000"/>
<rect x="520" y="231" width="1" height="15" fill="#000"/>
<rect x="519" y="232" width="3" height="13" fill="#000"/>
<rect x="524" y="232" width="1" height="16" fill="#000"/>
<rect x="523" y="243" width="3" height="4" fill="#000"/>
<rect x="524" y="244" width="1" height="2" fill="#fff"/>
<rect x="528" y="237" width="1" height="10" fill="#000"/>
<rect x="527" y="238" width="3" height="8" fill="#000"/>
<rect x="528" y="239" width="1" height="6" fill="#fff"/>
<rect x="532" y="234" width="1" height="9" fill="#000"/>
<rect x="531" y="235" width="3" height="4" fill="#000"/>
<rect x="532" y="236" width="1" height="2" fill="#fff"/>
<rect x="536" y="228" width="1" height="11" fill="#000"/>
<rect x="535" y="232" width="3" height="4" fill="#000"/>
<rect x="540" y="225" width="1" height="11" fill="#000"/>
<rect x="539" y="228" width="3" height="8" fill="#000"/>
<rect x="540" y="229" width="1" height="6" fill="#fff"/>
<rect x="544" y="223" width="1" height="10" fill="#000"/>
<rect x="543" y="227" width="3" height="4" fill="#000"/>
<rect x="544" y="228" width="1" height="2" fill="#fff"/>
<rect x="548" y="226" width="1" height="11" fill="#000"/>
<rect x="547" y="227" width="3" height="6" fill="#000"/>
<rect x="552" y="232" width="1" height="7" fill="#000"/>
<rect x="551" y="232" width="3" height="3" fill="#000"/>
<rect x="556" y="225" width="1" height="10" fill="#000"/>
<rect x="555" y="228" width="3" height="2" fill="#000"/>
<rect x="560" y="227" width="1" height="7" fill="#000"/>
<rect x="559" y="229" width="3" height="1" fill="#000"/>
<rect x="564" y="227" width="1" height="6" fill="#000"/>
<rect x="563" y="228" width="3" height="2" fill="#000"/>
<rect x="568" y="222" width="1" height="11" fill="#000"/>
<rect x="567" y="226" width="3" height="4" fill="#000"/>
<rect x="568" y="227" width="1" height="2" fill="#fff"/>
<rect x="572" y="221" width="1" height="11" fill="#000"/>
<rect x="571" y="225" width="3" height="2" fill="#000"/>
<rect x="576" y="224" width="1" height="11" fill="#000"/>
<rect x="575" y="226" width="3" height="5" fill="#000"/>
<rect x="580" y="222" width="1" height="13" fill="#000"/>
<rect x="579" y="227" width="3" height="6" fill="#000"/>
<rect x="584" y="227" width="1" height="10" fill="#000"/>
<rect x="583" y="228" width="3" height="4" fill="#000"/>
<rect x="584" y="229" width="1" height="2" fill="#fff"/>
<rect x="588" y="229" width="1" height="8" fill="#000"/>
<rect x="587" y="230" width="3" height="6" fill="#000"/>
<rect x="592" y="234" width="1" height="13" fill="#000"/>
<rect x="591" y="236" width="3" height="9" fill="#000"/>
<rect x="592" y="237" width="1" height="7" fill="#fff"/>
<rect x="596" y="236" width="1" height="9" fill="#000"/>
<rect x="595" y="237" width="3" height="5" fill="#000"/>
<rect x="600" y="236" width="1" height="17" fill="#000"/>
<rect x="599" y="238" width="3" height="3" fill="#000"/>
<rect x="600" y="239" width="1" height="1" fill="#fff"/>
<rect x="604" y="239" width="1" height="25" fill="#000"/>
<rect x="603" y="240" width="3" height="2" fill="#000"/>
<rect x="608" y="239" width="1" height="19" fill="#000"/>
<rect x="607" y="241" width="3" height="10" fill="#000"/>
<rect x="612" y="240" width="1" height="12" fill="#000"/>
<rect x="611" y="244" width="3" height="7" fill="#000"/>
<rect x="612" y="245" width="1" height="5" fill="#fff"/>
<rect x="616" y="240" width="1" height="9" fill="#000"/>
<rect x="615" y="242" width="3" height="5" fill="#000"/>
<rect x="620" y="242" width="1" height="7" fill="#000"/>
<rect x="619" y="244" width="3" height="3" fill="#000"/>
<rect x="624" y="242" width="1" height="14" fill="#000"/>
<rect x="623" y="244" width="3" height="9" fill="#000"/>
<rect x="628" y="248" width="1" height="7" fill="#000"/>
<rect x="627" y="249" width="3" height="6" fill="#000"/>
<rect x="632" y="240" width="1" height="18" fill="#000"/>
<rect x="631" y="242" width="3" height="13" fill="#000"/>
<rect x="632" y="243" width="1" height="11" fill="#fff"/>
<rect x="636" y="224" width="1" height="21" fill="#000"/>
<rect x="635" y="239" width="3" height="4" fill="#000"/>
<rect x="636" y="240" width="1" height="2" fill="#fff"/>
<rect x="640" y="229" width="1" height="12" fill="#000"/>
<rect x="639" y="233" width="3" height="7" fill="#000"/>
<rect x="640" y="234" width="1" height="5" fill="#fff"/>
<rect x="644" y="229" width="1" height="9" fill="#000"/>
<rect x="643" y="233" width="3" height="4" fill="#000"/>
<rect x="648" y="232" width="1" height="19" fill="#000"/>
<rect x="647" y="236" width="3" height="2" fill="#000"/>
<rect x="652" y="230" width="1" height="9" fill="#000"/>
<rect x="651" y="233" width="3" height="3" fill="#000"/>
<rect x="652" y="234" width="1" height="1" fill="#fff"/>
<rect x="656" y="225" width="1" height="16" fill="#000"/>
<rect x="655" y="229" width="3" height="5" fill="#000"/>
<rect x="656" y="230" width="1" height="3" fill="#fff"/>
<rect x="660" y="225" width="1" height="9" fill="#000"/>
<rect x="659" y="226" width="3" height="3" fill="#000"/>
<rect x="664" y="217" width="1" height="13" fill="#000"/>
<rect x="663" y="219" width="3" height="9" fill="#000"/>
<rect x="664" y="220" width="1" height="7" fill="#fff"/>
<rect x="668" y="209" width="1" height="11" fill="#000"/>
<rect x="667" y="217" width="3" height="2" fill="#000"/>
<rect x="672" y="210" width="1" height="10" fill="#000"/>
<rect x="671" y="217" width="3" height="3" fill="#000"/>
<rect x="676" y="213" width="1" height="6" fill="#000"/>
<rect x="675" y="214" width="3" height="4" fill="#000"/>
<rect x="676" y="215" width="1" height="2" fill="#fff"/>
<rect x="680" y="210" width="1" height="7" fill="#000"/>
<rect x="679" y="212" width="3" height="2" fill="#000"/>
<rect x="684" y="206" width="1" height="10" fill="#000"/>
<rect x="683" y="208" width="3" height="6" fill="#000"/>
<rect x="688" y="202" width="1" height="11" fill="#000"/>
<rect x="687" y="204" width="3" height="8" fill="#000"/>
<rect x="688" y="205" width="1" height="6" fill="#fff"/>
<rect x="692" y="191" width="1" height="16" fill="#000"/>
<rect x="691" y="193" width="3" height="12" fill="#000"/>
<rect x="692" y="194" width="1" height="10" fill="#fff"/>
<rect x="696" y="168" width="1" height="27" fill="#000"/>
<rect x="695" y="169" width="3" height="23" fill="#000"/>
<rect x="696" y="170" width="1" height="21" fill="#fff"/>
</g>
<g shape-rendering="crispEdges" clip-path="url(#cs)">
<polyline points="0.5,536.4 4.5,515.4 8.5,488.7 12.5,462.8 16.5,453.2 20.5,459.8 24.5,480.8 28.5,501.2 32.5,506.2 36.5,497.5 40.5,488.5 44.5,495.2 48.5,514.8 52.5,527.5 56.5,532.8 60.5,534.5 64.5,542.8 68.5,551.2 72.5,548.5 76.5,529.2 80.5,494.8 84.5,456.5 88.5,421.3 92.5,408.0 96.5,414.7 100.5,438.2 104.5,461.8 108.5,475.2 112.5,480.2 116.5,468.2 120.5,452.0 124.5,436.5 128.5,441.2 132.5,462.3 136.5,487.2 140.5,489.8 144.5,461.5 148.5,437.2 152.5,433.2 156.5,460.5 160.5,489.8 164.5,518.8 168.5,540.5 172.5,553.5 176.5,558.7 180.5,560.6 184.5,559.5 188.5,553.5 192.5,539.7 196.5,521.4 200.5,504.3 204.5,505.4 208.5,521.5 212.5,536.4 216.5,529.2 220.5,506.0 224.5,485.2 228.5,476.3 232.5,473.6 236.5,468.4 240.5,467.3 244.5,464.3 248.5,472.6 252.5,479.8 256.5,493.3 260.5,504.1 264.5,506.3 268.5,495.3 272.5,470.6 276.5,453.5 280.5,450.7 284.5,459.2 288.5,471.9 292.5,488.5 296.5,511.5 300.5,513.7 304.5,493.8 308.5,454.2 312.5,431.0 316.5,418.8 320.5,418.1 324.5,418.6 328.5,431.9 332.5,455.7 336.5,478.5 340.5,481.3 344.5,460.3 348.5,430.5 352.5,411.9 356.5,406.2 360.5,406.6 364.5,405.5 368.5,406.3 372.5,411.1 376.5,417.0 380.5,422.5 384.5,428.6 388.5,446.8 392.5,475.6 396.5,497.4 400.5,497.4 404.5,475.3 408.5,448.5 412.5,425.5 416.5,413.9 420.5,407.5 424.5,408.9 428.5,413.9 432.5,425.8 436.5,435.8 440.5,438.6 444.5,429.5 448.5,430.6 452.5,442.5 456.5,468.0 460.5,478.5 464.5,480.6 468.5,475.5 472.5,472.4 476.5,460.5 480.5,452.0 484.5,455.1 488.5,477.6 492.5,507.9 496.5,531.8 500.5,547.2 504.5,547.3 508.5,535.5 512.5,513.2 516.5,483.9 520.5,472.8 524.5,478.3 528.5,501.0 532.5,504.3 536.5,488.3 540.5,459.0 544.5,436.7 548.5,428.4 552.5,437.2 556.5,457.1 560.5,474.3 564.5,473.2 568.5,458.4 572.5,445.7 576.5,452.9 580.5,478.3 584.5,501.6 588.5,517.9 592.5,515.7 596.5,519.6 600.5,512.1 604.5,502.7 608.5,483.9 612.5,469.5 616.5,462.6 620.5,452.7 624.5,452.7 628.5,461.2 632.5,478.1 636.5,482.6 640.5,468.7 644.5,456.2 648.5,447.2 652.5,450.5 656.5,447.2 660.5,438.6 664.5,421.8 668.5,410.7 672.5,411.8 676.5,421.7 680.5,427.6 684.5,428.2 688.5,424.9 692.5,422.3" fill="none" stroke="#ff0000" stroke-width="1" stroke-dasharray="3 3"/>
<polyline points="-7.5,550.5 -3.5,540.5 0.5,518.1 4.5,487.5 8.5,460.5 12.5,440.5 16.5,458.5 20.5,480.5 24.5,503.5 28.5,519.5 32.5,495.5 36.5,477.5 40.5,492.5 44.5,515.5 48.5,536.5 52.5,530.5 56.5,531.5 60.5,541.5 64.5,555.5 68.5,556.5 72.5,533.5 76.5,497.5 80.5,453.5 84.5,418.5 88.5,392.0 92.5,413.5 96.5,438.5 100.5,462.5 104.5,484.5 108.5,478.5 112.5,477.5 116.5,448.5 120.5,430.0 124.5,431.0 128.5,462.5 132.5,493.5 136.5,505.5 140.5,470.5 144.5,408.5 148.5,432.5 152.5,458.5 156.5,490.5 160.5,520.5 164.5,545.5 168.5,555.5 172.5,559.5 176.5,561.0 180.5,561.3 184.5,556.3 188.5,543.0 192.5,519.8 196.5,501.5 200.5,491.6 204.5,523.1 208.5,549.7 212.5,536.4 216.5,501.5 220.5,480.0 224.5,474.0 228.5,475.0 232.5,471.7 236.5,458.4 240.5,471.7 244.5,462.8 248.5,483.3 252.5,493.3 256.5,503.2 260.5,515.8 264.5,499.9 268.5,470.1 272.5,441.9 276.5,448.5 280.5,461.8 284.5,467.4 288.5,486.6 292.5,511.5 296.5,536.4 300.5,493.3 304.5,451.8 308.5,417.6 312.5,423.6 316.5,415.3 320.5,415.3 324.5,425.3 328.5,455.1 332.5,486.6 336.5,493.9 340.5,463.4 344.5,423.6 348.5,404.4 352.5,407.7 356.5,406.4 360.5,405.7 364.5,404.4 368.5,408.7 372.5,420.3 376.5,422.0 380.5,425.3 384.5,438.5 388.5,476.7 392.5,511.5 396.5,503.9 400.5,476.7 404.5,445.2 408.5,423.6 412.5,407.7 416.5,410.4 420.5,404.4 424.5,412.0 428.5,425.3 432.5,440.2 436.5,441.9 440.5,433.6 444.5,413.0 448.5,445.2 452.5,469.4 456.5,489.3 460.5,476.7 464.5,475.7 468.5,474.0 472.5,467.4 476.5,440.2 480.5,448.5 484.5,476.7 488.5,507.5 492.5,539.5 496.5,548.5 500.5,553.6 504.5,539.7 508.5,513.2 512.5,486.6 516.5,451.8 520.5,480.0 524.5,503.2 528.5,519.8 532.5,490.0 536.5,455.1 540.5,431.9 544.5,423.0 548.5,430.3 552.5,458.4 556.5,482.7 560.5,481.7 564.5,455.1 568.5,438.5 572.5,443.5 576.5,476.7 580.5,514.8 584.5,513.2 588.5,525.8 592.5,508.2 596.5,524.8 600.5,503.2 604.5,480.0 608.5,468.4 612.5,460.1 616.5,459.4 620.5,438.5 624.5,460.1 628.5,485.0 632.5,489.3 636.5,473.4 640.5,443.5 644.5,451.8 648.5,446.2 652.5,453.5 656.5,441.9 660.5,420.3 664.5,403.1 668.5,408.7 672.5,423.6 676.5,432.9 680.5,426.3 684.5,425.3 688.5,423.0 692.5,418.6 696.5,397.1" fill="none" stroke="#20b2aa" stroke-width="1" />
</g>
<g shape-rendering="crispEdges" fill="#000">
<rect x="0" y="0" width="996" height="1"/>
<rect x="995" y="0" width="1" height="574"/>
<rect x="0" y="381" width="996" height="1"/>
<rect x="0" y="383" width="996" height="1"/>
<rect x="0" y="573" width="996" height="1"/>
<rect x="996" y="21" width="2" height="1"/>
<rect x="996" y="86" width="2" height="1"/>
<rect x="996" y="151" width="2" height="1"/>
<rect x="996" y="216" width="2" height="1"/>
<rect x="996" y="281" width="2" height="1"/>
<rect x="996" y="346" width="2" height="1"/>
<rect x="996" y="422" width="2" height="1"/>
<rect x="996" y="536" width="2" height="1"/>
<rect x="996" y="384" width="2" height="1"/>
<rect x="996" y="573" width="2" height="1"/>
<rect x="60" y="574" width="1" height="3"/>
<rect x="188" y="574" width="1" height="3"/>
<rect x="316" y="574" width="1" height="3"/>
<rect x="444" y="574" width="1" height="3"/>
<rect x="572" y="574" width="1" height="3"/>
</g>
<polygon points="697,1 713,1 705,9" fill="#b4b4b4"/>
<rect x="997" y="161" width="62" height="17" fill="#000" shape-rendering="crispEdges"/>
<g shape-rendering="crispEdges">
<rect x="0" y="600" width="1067" height="1" fill="#e2e2e2"/>
<rect x="0" y="602" width="59" height="1" fill="#000"/>
<rect x="217" y="602" width="850" height="1" fill="#000"/>
</g>
</svg>
<div class="l" style="left:1003px;top:15.0px;color:#000">152.380</div>
<div class="l" style="left:1003px;top:80.0px;color:#000">133.530</div>
<div class="l" style="left:1003px;top:145.0px;color:#000">114.390</div>
<div class="l" style="left:1003px;top:210.0px;color:#000">95.540</div>
<div class="l" style="left:1003px;top:275.0px;color:#000">76.400</div>
<div class="l" style="left:1003px;top:340.0px;color:#000">57.550</div>
<div class="l" style="left:1003px;top:162.5px;color:#fff">109.307</div>
<div class="l" style="left:1000px;top:387.5px;color:#000">100</div>
<div class="l" style="left:999px;top:415.5px;color:#000">80</div>
<div class="l" style="left:999px;top:529.5px;color:#000">20</div>
<div class="l" style="left:999px;top:557.5px;color:#000">0</div>
<div class="l" style="left:-70px;top:579.0px;color:#000">21 Feb 2021</div>
<div class="l" style="left:60px;top:579.0px;color:#000">3 Oct 2021</div>
<div class="l" style="left:188px;top:579.0px;color:#000">15 May 2022</div>
<div class="l" style="left:316px;top:579.0px;color:#000">25 Dec 2022</div>
<div class="l" style="left:444px;top:579.0px;color:#000">6 Aug 2023</div>
<div class="l" style="left:572px;top:579.0px;color:#000">14 Apr 2024</div>

<div id="logo">
<svg width="180" height="45" viewBox="0 0 180 45" style="position:absolute;left:0;top:0">
<g fill="#fff">
<polygon points="21.56,2.87 26.44,2.87 26.37,6.41 28.74,7.04 30.45,3.95 34.67,6.39 32.85,9.41 34.59,11.15 37.61,9.33 40.05,13.55 36.96,15.26 37.59,17.63 41.13,17.56 41.13,22.44 37.59,22.37 36.96,24.74 40.05,26.45 37.61,30.67 34.59,28.85 32.85,30.59 34.67,33.61 30.45,36.05 28.74,32.96 26.37,33.59 26.44,37.13 21.56,37.13 21.63,33.59 19.26,32.96 17.55,36.05 13.33,33.61 15.15,30.59 13.41,28.85 10.39,30.67 7.95,26.45 11.04,24.74 10.41,22.37 6.87,22.44 6.87,17.56 10.41,17.63 11.04,15.26 7.95,13.55 10.39,9.33 13.41,11.15 15.15,9.41 13.33,6.39 17.55,3.95 19.26,7.04 21.63,6.41"/>
<rect x="21.6" y="15" width="4.8" height="23" />
</g>
<circle cx="24" cy="13" r="3" fill="#7d7d7d"/>
<path d="M15.6 16.2 C 19.2 18.5, 20 24, 19.7 35" stroke="#7d7d7d" stroke-width="3.2" fill="none"/>
<path d="M32.4 16.2 C 28.8 18.5, 28 24, 28.3 35" stroke="#7d7d7d" stroke-width="3.2" fill="none"/>
<rect x="19" y="33" width="2.6" height="6" fill="#7d7d7d"/><rect x="26.4" y="33" width="2.6" height="6" fill="#7d7d7d"/>
</svg>
<div id="lt1">instaforex</div>
<div id="lt2">Instant Forex Trading</div>
</div>

</body></html>
